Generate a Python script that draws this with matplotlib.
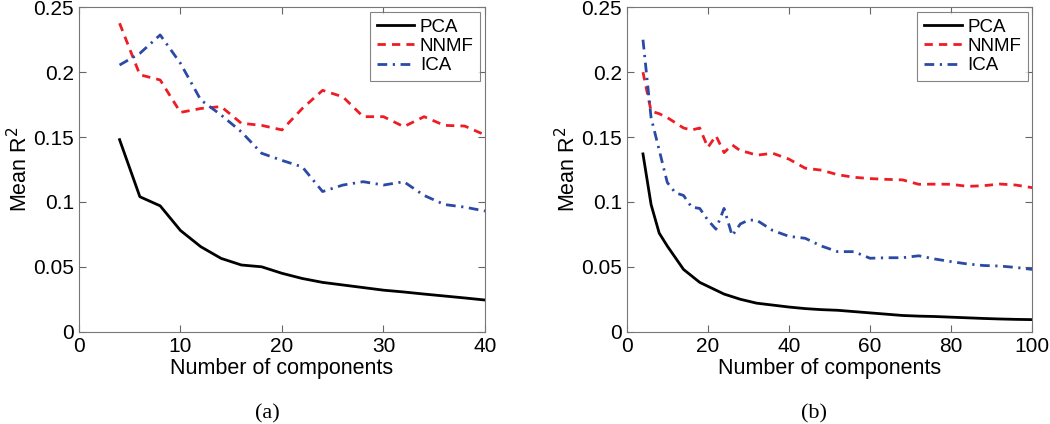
import matplotlib.pyplot as plt
from matplotlib.ticker import FixedLocator

plt.rcParams['font.family'] = ['Liberation Sans', 'DejaVu Sans']

# (a) up to 40 components
x_a = [4, 6, 8, 10, 12, 14, 16, 18, 20, 22, 24, 26, 28, 30, 32, 34, 36, 38, 40]
pca_a = [0.148, 0.104, 0.097, 0.078, 0.0655, 0.0565, 0.0514, 0.050, 0.045, 0.041,
         0.038, 0.036, 0.034, 0.032, 0.0306, 0.029, 0.0275, 0.026, 0.0244]
nnmf_a = [0.2377, 0.198, 0.194, 0.169, 0.172, 0.1735, 0.1606, 0.159, 0.1555, 0.172,
          0.186, 0.181, 0.1657, 0.1657, 0.158, 0.1657, 0.159, 0.1585, 0.1516]
ica_a = [0.2055, 0.2145, 0.2287, 0.2068, 0.1786, 0.167, 0.154, 0.1375, 0.132, 0.127,
         0.108, 0.113, 0.1156, 0.113, 0.1156, 0.105, 0.098, 0.096, 0.093]

# (b) up to 100 components
x_b = [4, 6, 8, 10, 12, 14, 16, 18, 20, 22, 24, 26, 28, 30, 32, 36, 40, 44, 48,
       52, 56, 60, 64, 68, 72, 76, 80, 84, 88, 92, 96, 100]
pca_b = [0.137, 0.098, 0.076, 0.066, 0.057, 0.048, 0.043, 0.038, 0.035, 0.032,
         0.029, 0.027, 0.025, 0.0235, 0.022, 0.0205, 0.019, 0.0178, 0.017, 0.0165,
         0.0155, 0.0145, 0.0135, 0.0125, 0.012, 0.0117, 0.0112, 0.0107, 0.0102,
         0.0098, 0.0095, 0.0093]
nnmf_b = [0.200, 0.170, 0.168, 0.165, 0.161, 0.157, 0.1554, 0.157, 0.142, 0.151,
          0.138, 0.144, 0.1395, 0.138, 0.136, 0.1375, 0.133, 0.126, 0.1245, 0.121,
          0.119, 0.118, 0.1174, 0.117, 0.1136, 0.1137, 0.1136, 0.112, 0.1125,
          0.1138, 0.113, 0.111]
ica_b = [0.225, 0.165, 0.140, 0.115, 0.107, 0.105, 0.096, 0.095, 0.086, 0.079,
         0.095, 0.074, 0.083, 0.086, 0.086, 0.078, 0.0735, 0.072, 0.066, 0.0617,
         0.0617, 0.0566, 0.057, 0.057, 0.0585, 0.056, 0.054, 0.0522, 0.051,
         0.0506, 0.0495, 0.048]

y_ticks = [0, 0.05, 0.1, 0.15, 0.2, 0.25]
y_labels = ['0', '0.05', '0.1', '0.15', '0.2', '0.25']

fig = plt.figure(figsize=(10.5, 4.24), dpi=100)
ax1 = fig.add_axes([0.0752, 0.2177, 0.3867, 0.7651])
ax2 = fig.add_axes([0.5969, 0.2177, 0.3862, 0.7651])

panels = [
    (ax1, x_a, pca_a, nnmf_a, ica_a, 40, [0, 10, 20, 30, 40], '(a)'),
    (ax2, x_b, pca_b, nnmf_b, ica_b, 100, [0, 20, 40, 60, 80, 100], '(b)'),
]

for ax, x, pca, nnmf, ica, xmax, xt, cap in panels:
    ax.plot(x, pca, color='black', lw=2.0, label='PCA')
    ax.plot(x, nnmf, color='#ee1c24', lw=2.0, ls=(0, (3, 2.2)), label='NNMF')
    ax.plot(x, ica, color='#2b4aa6', lw=2.0, ls=(0, (3.5, 2, 0.8, 2)), label='ICA')
    ax.set_xlim(0, xmax)
    ax.set_ylim(0, 0.25)
    ax.xaxis.set_major_locator(FixedLocator(xt))
    ax.set_yticks(y_ticks)
    ax.set_yticklabels(y_labels)
    ax.tick_params(direction='in', top=True, right=True, length=5, width=0.8,
                   color='#666666', labelsize=15, pad=3.5)
    for sp in ax.spines.values():
        sp.set_color('#777777')
        sp.set_linewidth(0.8)
    ax.set_xlabel('Number of components', fontsize=15.5, labelpad=1.5)
    ax.set_ylabel('Mean R$^2$', fontsize=15.5, labelpad=0.5)
    leg = ax.legend(loc='upper right', fontsize=13.5, frameon=True, fancybox=False,
                    handlelength=2.0, handletextpad=0.3, borderpad=0.35,
                    labelspacing=0.12, borderaxespad=0.25)
    leg.get_frame().set_edgecolor('#666666')
    leg.get_frame().set_linewidth(0.8)
    ax.text(0.463, -0.225, cap, transform=ax.transAxes, ha='center', va='top',
            fontsize=16, family='Liberation Serif')

fig.savefig('out.png', dpi=100)
